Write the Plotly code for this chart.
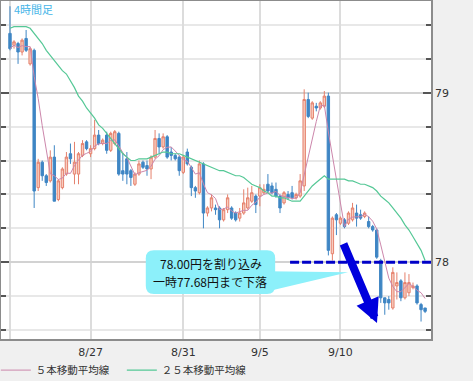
import plotly.graph_objects as go
import pandas as pd

# ---- data (USD/JPY 4-hour candles) ----
open_ = [79.35, 79.28, 79.29, 79.24, 79.32, 79.17, 79.25, 78.44, 78.59, 78.51,
         78.48, 78.62, 78.37, 78.44, 78.52, 78.64, 78.52, 78.52, 78.63, 78.71,
         78.64, 78.67, 78.75, 78.70, 78.75, 78.66, 78.70, 78.76, 78.54, 78.61,
         78.54, 78.46, 78.52, 78.59, 78.57, 78.55, 78.62, 78.73, 78.68, 78.74,
         78.65, 78.63, 78.62, 78.53, 78.65, 78.56, 78.44, 78.41, 78.58, 78.29,
         78.32, 78.32, 78.32, 78.25, 78.31, 78.32, 78.29, 78.26, 78.29, 78.32,
         78.36, 78.39, 78.39, 78.41, 78.46, 78.45, 78.43, 78.39, 78.35, 78.40,
         78.41, 78.38, 78.39, 78.45, 78.96, 78.85, 78.92, 78.91, 78.92, 78.98,
         78.05, 78.28, 78.23, 78.25, 78.23, 78.25, 78.29, 78.28, 78.27, 78.24,
         78.21, 78.19, 78.01, 77.79, 77.78, 77.73, 77.86, 77.89, 77.79, 77.82,
         77.85, 77.86, 77.75, 77.73]
high = [79.51, 79.31, 79.30, 79.32, 79.37, 79.27, 79.26, 78.61, 78.60, 78.52,
        78.66, 78.69, 78.49, 78.56, 78.65, 78.70, 78.71, 78.65, 78.72, 78.72,
        78.69, 78.84, 78.78, 78.73, 78.77, 78.77, 78.78, 78.77, 78.64, 78.65,
        78.55, 78.53, 78.60, 78.60, 78.60, 78.63, 78.78, 78.76, 78.76, 78.75,
        78.68, 78.64, 78.63, 78.63, 78.67, 78.57, 78.45, 78.60, 78.59, 78.33,
        78.40, 78.34, 78.33, 78.32, 78.40, 78.33, 78.30, 78.32, 78.43, 78.44,
        78.45, 78.40, 78.46, 78.46, 78.52, 78.47, 78.47, 78.40, 78.42, 78.42,
        78.45, 78.41, 78.52, 79.02, 79.00, 78.95, 78.94, 78.95, 79.01, 79.00,
        78.27, 78.29, 78.27, 78.26, 78.30, 78.35, 78.34, 78.31, 78.30, 78.27,
        78.22, 78.20, 78.02, 77.79, 77.80, 77.97, 77.94, 77.90, 77.94, 77.93,
        77.88, 77.87, 77.76, 77.73]
low = [79.25, 79.26, 79.17, 79.22, 79.24, 79.16, 78.32, 78.42, 78.48, 78.45,
       78.47, 78.36, 78.36, 78.43, 78.51, 78.58, 78.46, 78.46, 78.62, 78.66,
       78.62, 78.66, 78.69, 78.69, 78.64, 78.65, 78.69, 78.51, 78.48, 78.46,
       78.45, 78.45, 78.51, 78.55, 78.51, 78.49, 78.61, 78.64, 78.67, 78.61,
       78.60, 78.60, 78.51, 78.52, 78.57, 78.39, 78.38, 78.40, 78.20, 78.27,
       78.30, 78.28, 78.20, 78.24, 78.29, 78.25, 78.24, 78.24, 78.28, 78.31,
       78.35, 78.29, 78.33, 78.40, 78.41, 78.40, 78.38, 78.29, 78.34, 78.37,
       78.37, 78.37, 78.38, 78.42, 78.85, 78.84, 78.89, 78.90, 78.91, 78.04,
       78.01, 78.16, 78.22, 78.20, 78.22, 78.24, 78.21, 78.25, 78.26, 78.20,
       78.18, 78.02, 77.76, 77.69, 77.72, 77.72, 77.78, 77.77, 77.78, 77.80,
       77.84, 77.75, 77.65, 77.70]
close = [79.26, 79.30, 79.24, 79.31, 79.25, 79.26, 78.42, 78.59, 78.51, 78.47,
         78.62, 78.36, 78.48, 78.55, 78.62, 78.61, 78.59, 78.64, 78.70, 78.67,
         78.67, 78.75, 78.70, 78.72, 78.66, 78.76, 78.77, 78.52, 78.52, 78.52,
         78.50, 78.52, 78.58, 78.56, 78.55, 78.62, 78.73, 78.68, 78.74, 78.62,
         78.63, 78.61, 78.54, 78.62, 78.58, 78.44, 78.42, 78.58, 78.29, 78.32,
         78.38, 78.31, 78.25, 78.31, 78.38, 78.26, 78.25, 78.29, 78.35, 78.38,
         78.41, 78.34, 78.44, 78.43, 78.42, 78.41, 78.39, 78.32, 78.41, 78.38,
         78.38, 78.40, 78.48, 78.96, 78.86, 78.94, 78.91, 78.94, 78.98, 78.07,
         78.26, 78.25, 78.26, 78.21, 78.29, 78.32, 78.26, 78.26, 78.29, 78.21,
         78.19, 78.03, 77.79, 77.76, 77.76, 77.94, 77.88, 77.79, 77.88, 77.88,
         77.86, 77.76, 77.72, 77.71]
ma25 = [79.38, 79.39, 79.39, 79.39, 79.39, 79.38, 79.35, 79.32, 79.29, 79.25,
        79.22, 79.19, 79.16, 79.13, 79.11, 79.07, 79.03, 78.98, 78.95, 78.91,
        78.88, 78.85, 78.81, 78.79, 78.76, 78.73, 78.70, 78.67, 78.64, 78.62,
        78.60, 78.60, 78.61, 78.61, 78.61, 78.62, 78.63, 78.64, 78.65, 78.65,
        78.64, 78.64, 78.64, 78.63, 78.62, 78.61, 78.60, 78.59, 78.58, 78.57,
        78.56, 78.55, 78.54, 78.54, 78.53, 78.52, 78.51, 78.51, 78.50, 78.48,
        78.46, 78.45, 78.44, 78.42, 78.41, 78.39, 78.39, 78.38, 78.38, 78.37,
        78.36, 78.36, 78.36, 78.39, 78.42, 78.45, 78.47, 78.49, 78.51, 78.49,
        78.49, 78.49, 78.49, 78.49, 78.48, 78.48, 78.47, 78.46, 78.46, 78.45,
        78.44, 78.42, 78.39, 78.37, 78.35, 78.32, 78.29, 78.26, 78.22, 78.19,
        78.15, 78.11, 78.07, 78.01]
date_labels = ["", "8/27", "8/31", "9/5", "9/10"]
date_candle = [0, 20, 43, 62, 82]
series_names = ["５本移動平均線", "２５本移動平均線"]
chart_title = "4時間足"
callout_lines = ["78.00円を割り込み", "一時77.68円まで下落"]
break_level = 78.00

# ---- figure ----
idx = list(range(len(close)))
ma5 = pd.Series(close).rolling(5, min_periods=1).mean().tolist()

JP = "Noto Sans CJK JP"
AX = "DejaVu Sans"

fig = go.Figure()
fig.add_trace(go.Candlestick(
    x=idx, open=open_, high=high, low=low, close=close,
    increasing=dict(line=dict(color="#e5806c", width=1), fillcolor="#f8cdbf"),
    decreasing=dict(line=dict(color="#3f86c4", width=1), fillcolor="#3f86c4"),
    whiskerwidth=0, showlegend=False, hoverinfo="skip"))
fig.add_trace(go.Scatter(x=idx, y=ma5, mode="lines", name=series_names[0],
                         line=dict(color="#cc86ab", width=1)))
fig.add_trace(go.Scatter(x=idx, y=ma25, mode="lines", name=series_names[1],
                         line=dict(color="#55c896", width=1.2)))

xr = [-2.23, 104.47]
yr = [77.547, 79.541]

# callout box (rounded rectangle) and its tail
bx0, bx1, by0, by1 = 33.7, 65.8, 77.812, 78.070
rx, ry = 2.0, 0.047
box_path = (f"M{bx0+rx},{by1} L{bx1-rx},{by1} Q{bx1},{by1} {bx1},{by1-ry} "
            f"L{bx1},{by0+ry} Q{bx1},{by0} {bx1-rx},{by0} L{bx0+rx},{by0} "
            f"Q{bx0},{by0} {bx0},{by0+ry} L{bx0},{by1-ry} Q{bx0},{by1} {bx0+rx},{by1} Z")
tail_path = "M64.0,77.947 L83.9,77.941 L64.0,77.829 Z"
cyan = "#8cf0fa"

shapes = [
    dict(type="path", path=box_path, xref="x", yref="y", fillcolor=cyan,
         line=dict(width=0), layer="above"),
    dict(type="path", path=tail_path, xref="x", yref="y", fillcolor=cyan,
         line=dict(width=0), layer="above"),
    dict(type="line", xref="x", yref="y", x0=69.5, x1=xr[1], y0=break_level, y1=break_level,
         line=dict(color="#0000c8", width=3, dash="9px,3px"), layer="above"),
]

annotations = [
    dict(text=chart_title, xref="paper", yref="paper", x=0.025, y=0.976,
         xanchor="left", yanchor="middle", showarrow=False,
         font=dict(family=JP, size=11, color="#45b5e8")),
    dict(text=callout_lines[0], xref="x", yref="y", x=49.9, y=77.994,
         showarrow=False, font=dict(family=JP, size=12, color="#111")),
    dict(text=callout_lines[1], xref="x", yref="y", x=49.75, y=77.885,
         showarrow=False, font=dict(family=JP, size=12, color="#111")),
    dict(text="", xref="x", yref="y", x=91.07, y=77.641, axref="x", ayref="y",
         ax=82.6, ay=78.117, showarrow=True, arrowhead=2, arrowsize=0.6,
         arrowwidth=8, arrowcolor="#0000dd", standoff=0, startstandoff=0),
]

fig.update_layout(
    width=473, height=381,
    margin=dict(l=1, r=42, t=1, b=42, autoexpand=False),
    paper_bgcolor="#f0f0f0", plot_bgcolor="#ffffff",
    boxgap=0.15,
    showlegend=True,
    legend=dict(orientation="h", x=-0.012, y=-0.092, xanchor="left", yanchor="middle",
                font=dict(family=JP, size=10.5, color="#333"),
                bgcolor="rgba(0,0,0,0)", itemwidth=30,
                entrywidth=81, entrywidthmode="pixels"),
    shapes=shapes, annotations=annotations,
    xaxis=dict(range=xr, tickmode="array", tickvals=date_candle, ticktext=date_labels,
               ticks="", showgrid=True, gridcolor="#dcdcdc", gridwidth=2,
               showline=True, linecolor="#8c8c8c", linewidth=1.5, mirror=True,
               zeroline=False, rangeslider=dict(visible=False), automargin=False,
               ticklabelstandoff=2,
               tickfont=dict(family=AX, size=11, color="#333")),
    yaxis=dict(side="right", range=yr, tickmode="linear", tick0=78, dtick=1,
               ticks="inside", ticklen=8, tickwidth=1.5, tickcolor="#555",
               showgrid=True, gridcolor="#d2d2d2", gridwidth=1.5,
               showline=True, linecolor="#8c8c8c", linewidth=1.5, mirror="ticks",
               zeroline=False, automargin=False,
               minor=dict(tickmode="linear", tick0=78, dtick=0.2, ticks="inside",
                          ticklen=5, tickwidth=1.5, tickcolor="#555",
                          showgrid=True, gridcolor="#e8e8e8", gridwidth=1.5),
               tickfont=dict(family=AX, size=11, color="#333")),
    font=dict(family=JP),
)

fig.write_html("out.html", config={"displayModeBar": False},
               post_script="document.body.style.margin='0';")
